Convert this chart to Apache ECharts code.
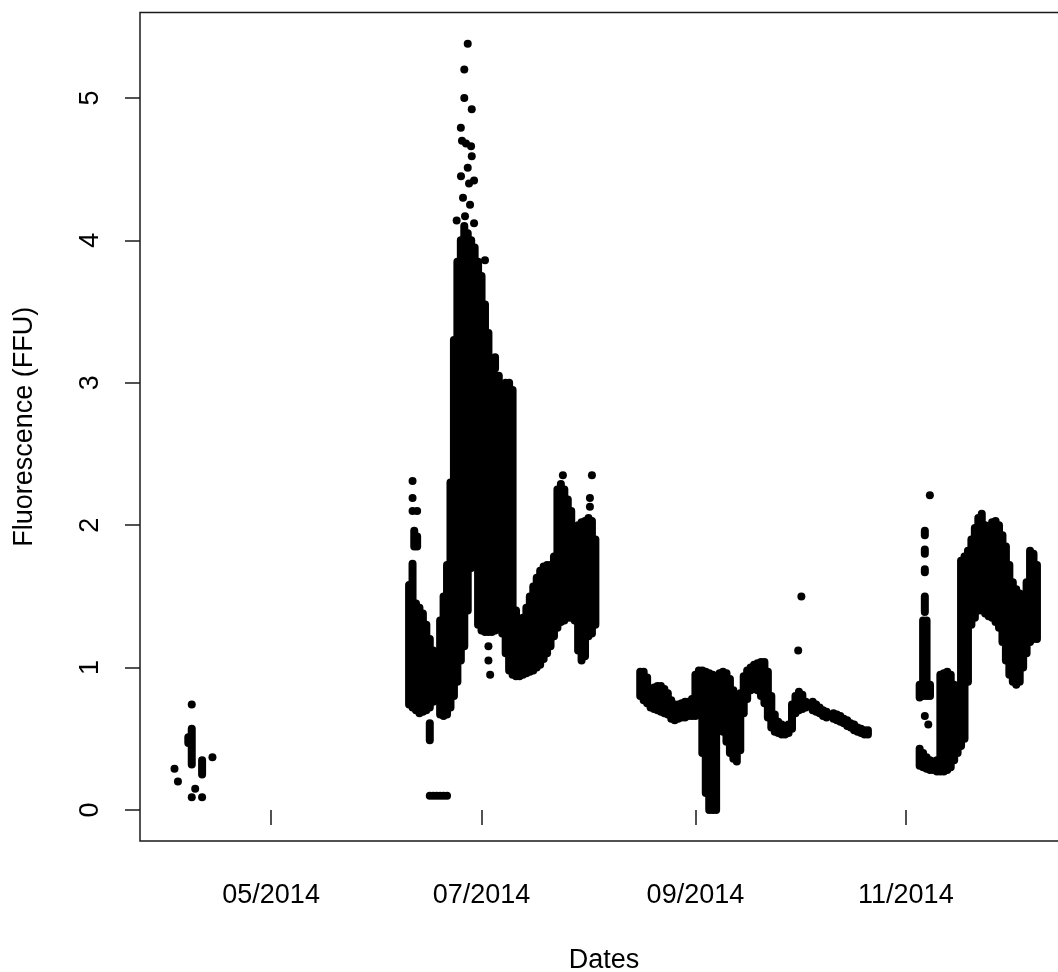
<!DOCTYPE html>
<html>
<head>
<meta charset="utf-8">
<script src="https://cdn.jsdelivr.net/npm/echarts@6/dist/echarts.min.js"></script>
<style>
  html, body { margin: 0; padding: 0; background: #fff; }
  #chart { width: 1058px; height: 972px; }
</style>
</head>
<body>
<div id="chart"></div>
<script>
// Fluorescence record, 2014. Dense logger runs are stored as
// [time, lowest reading, highest reading] per time slot; isolated readings as [time, value].

const aprilRanges = [
  ['2014-04-07', 0.47, 0.51],
  ['2014-04-08', 0.32, 0.57],
  ['2014-04-11', 0.25, 0.35]
];

const summerRanges = [
  ['2014-06-10', 0.74, 1.58],
  ['2014-06-11', 0.72, 1.73],
  ['2014-06-11 12:00', 1.85, 1.96],
  ['2014-06-12', 0.70, 1.45],
  ['2014-06-12 08:00', 1.85, 1.92],
  ['2014-06-13', 0.68, 1.42],
  ['2014-06-14', 0.69, 1.38],
  ['2014-06-15', 0.70, 1.30],
  ['2014-06-16', 0.72, 1.20],
  ['2014-06-16', 0.49, 0.61],
  ['2014-06-16', 0.10, 0.10],
  ['2014-06-17', 0.76, 1.12],
  ['2014-06-17', 0.10, 0.10],
  ['2014-06-18', 0.10, 0.10],
  ['2014-06-19', 0.67, 1.33],
  ['2014-06-19', 0.10, 0.10],
  ['2014-06-20', 0.66, 1.50],
  ['2014-06-20', 0.10, 0.10],
  ['2014-06-21', 0.67, 1.72],
  ['2014-06-21', 0.10, 0.10],
  ['2014-06-22', 0.72, 2.30],
  ['2014-06-23', 0.80, 3.30],
  ['2014-06-24', 0.90, 3.85],
  ['2014-06-25', 1.05, 4.00],
  ['2014-06-26', 1.15, 4.10],
  ['2014-06-27', 1.40, 4.05],
  ['2014-06-28', 1.70, 4.00],
  ['2014-06-29', 1.73, 3.95],
  ['2014-06-30', 1.30, 3.85],
  ['2014-07-01', 1.26, 3.75],
  ['2014-07-02', 1.25, 3.55],
  ['2014-07-03', 1.25, 3.35],
  ['2014-07-04', 1.25, 3.15],
  ['2014-07-04 22:00', 3.10, 3.18],
  ['2014-07-05', 1.26, 3.05],
  ['2014-07-06', 1.28, 3.05],
  ['2014-07-07', 1.24, 2.98],
  ['2014-07-08', 1.10, 3.00],
  ['2014-07-09', 0.98, 3.00],
  ['2014-07-10', 0.95, 2.95],
  ['2014-07-11', 0.94, 1.40],
  ['2014-07-12', 0.94, 1.30],
  ['2014-07-13', 0.95, 1.35],
  ['2014-07-14', 0.96, 1.42],
  ['2014-07-15', 0.97, 1.50],
  ['2014-07-16', 0.98, 1.57],
  ['2014-07-17', 1.00, 1.63],
  ['2014-07-18', 1.02, 1.68],
  ['2014-07-19', 1.06, 1.71],
  ['2014-07-20', 1.10, 1.72],
  ['2014-07-21', 1.15, 1.72],
  ['2014-07-22', 1.22, 1.78],
  ['2014-07-23', 1.28, 2.25],
  ['2014-07-24', 1.32, 2.29],
  ['2014-07-25', 1.33, 2.25],
  ['2014-07-26', 1.35, 2.18],
  ['2014-07-27', 1.35, 2.10],
  ['2014-07-28', 1.33, 1.80],
  ['2014-07-29', 1.12, 2.00],
  ['2014-07-30', 1.05, 2.02],
  ['2014-07-31', 1.08, 2.03],
  ['2014-08-01', 1.22, 2.05],
  ['2014-08-02', 1.24, 2.03],
  ['2014-08-03', 1.30, 1.90]
];

const autumnRanges = [
  ['2014-08-16', 0.80, 0.97],
  ['2014-08-17', 0.77, 0.97],
  ['2014-08-18', 0.75, 0.93],
  ['2014-08-19', 0.72, 0.85],
  ['2014-08-20', 0.71, 0.86],
  ['2014-08-21', 0.70, 0.87],
  ['2014-08-22', 0.69, 0.87],
  ['2014-08-23', 0.68, 0.85],
  ['2014-08-24', 0.67, 0.82],
  ['2014-08-25', 0.64, 0.77],
  ['2014-08-26', 0.63, 0.74],
  ['2014-08-27', 0.64, 0.74],
  ['2014-08-28', 0.65, 0.75],
  ['2014-08-29', 0.65, 0.76],
  ['2014-08-30', 0.66, 0.76],
  ['2014-08-31', 0.66, 0.78],
  ['2014-09-01', 0.66, 0.95],
  ['2014-09-02', 0.67, 0.98],
  ['2014-09-03', 0.40, 0.98],
  ['2014-09-04', 0.12, 0.97],
  ['2014-09-05', 0.00, 0.96],
  ['2014-09-06', 0.00, 0.95],
  ['2014-09-07', 0.00, 0.94],
  ['2014-09-08', 0.60, 0.96],
  ['2014-09-09', 0.55, 0.97],
  ['2014-09-10', 0.48, 0.96],
  ['2014-09-11', 0.40, 0.92],
  ['2014-09-12', 0.36, 0.84],
  ['2014-09-13', 0.34, 0.78],
  ['2014-09-14', 0.42, 0.82],
  ['2014-09-15', 0.68, 0.94],
  ['2014-09-16', 0.78, 0.98],
  ['2014-09-17', 0.84, 1.00],
  ['2014-09-18', 0.85, 1.02],
  ['2014-09-19', 0.84, 1.03],
  ['2014-09-20', 0.80, 1.04],
  ['2014-09-21', 0.75, 1.04],
  ['2014-09-22', 0.65, 0.97],
  ['2014-09-23', 0.58, 0.80],
  ['2014-09-24', 0.55, 0.67],
  ['2014-09-25', 0.54, 0.62],
  ['2014-09-26', 0.53, 0.60],
  ['2014-09-27', 0.53, 0.59],
  ['2014-09-28', 0.54, 0.60],
  ['2014-09-29', 0.57, 0.74],
  ['2014-09-30', 0.68, 0.80],
  ['2014-10-01', 0.70, 0.83],
  ['2014-10-02', 0.71, 0.81],
  ['2014-10-03', 0.72, 0.76],
  ['2014-10-05', 0.70, 0.76],
  ['2014-10-06', 0.69, 0.74],
  ['2014-10-07', 0.68, 0.72],
  ['2014-10-08', 0.66, 0.70],
  ['2014-10-09', 0.65, 0.69],
  ['2014-10-11', 0.64, 0.68],
  ['2014-10-12', 0.63, 0.67],
  ['2014-10-13', 0.62, 0.66],
  ['2014-10-14', 0.61, 0.64],
  ['2014-10-15', 0.59, 0.63],
  ['2014-10-16', 0.58, 0.61],
  ['2014-10-17', 0.56, 0.60],
  ['2014-10-18', 0.55, 0.58],
  ['2014-10-19', 0.54, 0.57],
  ['2014-10-20', 0.53, 0.56],
  ['2014-10-21', 0.53, 0.56]
];

const winterRanges = [
  ['2014-11-05', 0.31, 0.43],
  ['2014-11-05', 0.79, 0.88],
  ['2014-11-06', 0.30, 0.40],
  ['2014-11-06', 0.80, 1.33],
  ['2014-11-06 12:00', 1.39, 1.50],
  ['2014-11-06 12:00', 1.67, 1.69],
  ['2014-11-06 12:00', 1.80, 1.83],
  ['2014-11-06 12:00', 1.93, 1.96],
  ['2014-11-07', 0.29, 0.37],
  ['2014-11-07', 0.80, 1.33],
  ['2014-11-08', 0.28, 0.35],
  ['2014-11-08', 0.80, 0.88],
  ['2014-11-09', 0.28, 0.34],
  ['2014-11-10', 0.27, 0.35],
  ['2014-11-11', 0.27, 0.95],
  ['2014-11-12', 0.27, 0.96],
  ['2014-11-13', 0.28, 0.97],
  ['2014-11-14', 0.30, 0.95],
  ['2014-11-15', 0.35, 0.88],
  ['2014-11-16', 0.40, 0.80],
  ['2014-11-17', 0.45, 1.75],
  ['2014-11-18', 0.50, 1.78],
  ['2014-11-19', 0.90, 1.82],
  ['2014-11-20', 1.30, 1.90],
  ['2014-11-21', 1.35, 1.98],
  ['2014-11-22', 1.40, 2.05],
  ['2014-11-23', 1.40, 2.08],
  ['2014-11-24', 1.38, 2.00],
  ['2014-11-25', 1.36, 1.96],
  ['2014-11-26', 1.35, 2.02],
  ['2014-11-27', 1.32, 2.03],
  ['2014-11-28', 1.28, 2.00],
  ['2014-11-29', 1.18, 1.93],
  ['2014-11-30', 1.05, 1.85],
  ['2014-12-01', 0.95, 1.72],
  ['2014-12-02', 0.90, 1.60],
  ['2014-12-03', 0.88, 1.55],
  ['2014-12-04', 0.90, 1.52],
  ['2014-12-05', 1.00, 1.50],
  ['2014-12-06', 1.10, 1.60],
  ['2014-12-07', 1.18, 1.82],
  ['2014-12-08', 1.20, 1.80],
  ['2014-12-09', 1.20, 1.72]
];

const singlePoints = [
  ['2014-04-03', 0.29], ['2014-04-04', 0.20], ['2014-04-08', 0.74],
  ['2014-04-09', 0.15], ['2014-04-08', 0.09], ['2014-04-11', 0.09],
  ['2014-04-14', 0.37],
  ['2014-06-11', 2.31], ['2014-06-11', 2.19], ['2014-06-11', 2.10],
  ['2014-06-12 08:00', 2.10],
  ['2014-06-27 00:00', 5.38], ['2014-06-26 00:00', 5.20], ['2014-06-26 00:00', 5.00],
  ['2014-06-28 04:00', 4.92], ['2014-06-25 00:00', 4.79], ['2014-06-25 08:00', 4.70],
  ['2014-06-26 12:00', 4.68], ['2014-06-27 23:00', 4.66], ['2014-06-28 04:00', 4.59],
  ['2014-06-27 00:00', 4.51], ['2014-06-25 01:00', 4.45], ['2014-06-27 09:00', 4.40],
  ['2014-06-28 20:00', 4.42], ['2014-06-25 15:00', 4.30], ['2014-06-27 16:00', 4.25],
  ['2014-06-23 19:00', 4.14], ['2014-06-26 05:00', 4.17], ['2014-06-28 20:00', 4.12],
  ['2014-07-02 00:00', 3.86],
  ['2014-07-03', 1.15], ['2014-07-03', 1.05], ['2014-07-03 12:00', 0.95],
  ['2014-07-24 14:00', 2.35], ['2014-08-01 10:00', 2.19], ['2014-08-01 10:00', 2.13],
  ['2014-08-02', 2.35],
  ['2014-09-30 19:00', 1.12], ['2014-10-01 17:00', 1.50],
  ['2014-11-07 23:00', 2.21], ['2014-11-06 12:00', 0.66], ['2014-11-07 12:00', 0.60]
];

const xTickDates = ['2014-05-01', '2014-07-01', '2014-09-01', '2014-11-01'];
const xTickLabels = ['05/2014', '07/2014', '09/2014', '11/2014'];
const yTicks = [0, 1, 2, 3, 4, 5];

// Date strings -> millisecond timestamps (local time) for a numeric time scale.
function toTime(s) {
  const [d, t] = s.split(' ');
  const [y, m, day] = d.split('-').map(Number);
  const [hh, mm] = (t || '00:00').split(':').map(Number);
  return new Date(y, m - 1, day, hh, mm).getTime();
}

const xTickTimes = xTickDates.map(toTime);
const rangeData = [...aprilRanges, ...summerRanges, ...autumnRanges, ...winterRanges]
  .map(r => [toTime(r[0]), r[1], r[2]]);
const pointData = singlePoints.map(p => [toTime(p[0]), p[1]]);

const DOT = 8;
const FONT = 'Liberation Sans, Arial, sans-serif';

const chart = echarts.init(document.getElementById('chart'), null, { renderer: 'canvas' });

chart.setOption({
  animation: false,
  backgroundColor: '#fff',
  grid: {
    left: 140, top: 12.5, width: 928, height: 828.5,
    outerBoundsMode: 'none',
    containLabel: false,
    show: true, borderColor: '#1a1a1a', borderWidth: 1.5, backgroundColor: 'transparent'
  },
  xAxis: {
    type: 'value',
    min: toTime('2014-03-24'),
    max: toTime('2014-12-18'),
    name: 'Dates',
    nameLocation: 'middle',
    nameGap: 106,
    nameTextStyle: { fontFamily: FONT, fontSize: 27, color: '#000' },
    axisLine: { show: false },
    splitLine: { show: false },
    axisTick: {
      show: true, length: 15, inside: false,
      customValues: xTickTimes,
      lineStyle: { color: '#1a1a1a', width: 1.5 }
    },
    axisLabel: {
      customValues: xTickTimes,
      margin: 41,
      fontFamily: FONT, fontSize: 27, color: '#000',
      formatter: v => {
        const i = xTickTimes.indexOf(v);
        return i >= 0 ? xTickLabels[i] : '';
      }
    }
  },
  yAxis: {
    type: 'value',
    min: -0.2177,
    max: 5.6,
    name: 'Fluorescence (FFU)',
    nameLocation: 'middle',
    nameGap: 102,
    nameRotate: 90,
    nameTextStyle: { fontFamily: FONT, fontSize: 27, color: '#000' },
    axisLine: { show: false },
    splitLine: { show: false },
    axisTick: {
      show: true, length: 15, inside: false,
      customValues: yTicks,
      lineStyle: { color: '#1a1a1a', width: 1.5 }
    },
    axisLabel: {
      customValues: yTicks,
      rotate: 90,
      margin: 36,
      fontFamily: FONT, fontSize: 27, color: '#000',
      formatter: v => String(v)
    }
  },
  series: [
    {
      type: 'custom',
      data: rangeData,
      encode: { x: 0, y: [1, 2] },
      renderItem: (params, api) => {
        const t = api.value(0);
        const top = api.coord([t, api.value(2)]);
        const bot = api.coord([t, api.value(1)]);
        const r = DOT / 2;
        return {
          type: 'rect',
          shape: { x: top[0] - r, y: top[1] - r, width: DOT, height: bot[1] - top[1] + DOT, r: r },
          style: { fill: '#000' }
        };
      }
    },
    {
      type: 'scatter',
      data: pointData,
      symbol: 'circle',
      symbolSize: DOT,
      itemStyle: { color: '#000', opacity: 1 }
    }
  ]
});
</script>
</body>
</html>
